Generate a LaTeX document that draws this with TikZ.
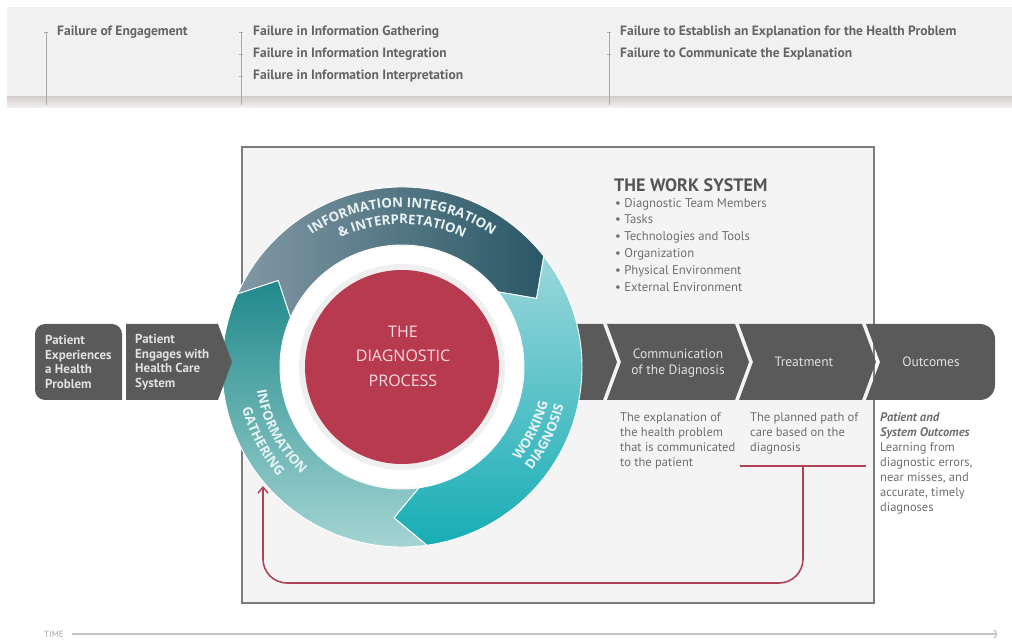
\documentclass[tikz,border=0pt]{standalone}
\usepackage{fontspec}
\setmainfont{PT Sans}
\newfontfamily\ringfont{Open Sans}
\usetikzlibrary{decorations.text,arrows.meta}
\definecolor{bandgray}{HTML}{F1F1F1}
\definecolor{bandshadeA}{HTML}{D5CFCF}
\definecolor{bandshadeB}{HTML}{F6F3F3}
\definecolor{bracketgray}{HTML}{ABABAB}
\definecolor{boxfill}{HTML}{F4F4F4}
\definecolor{boxline}{HTML}{7C7C7C}
\definecolor{chev}{HTML}{5A5A5A}
\definecolor{chevtext}{HTML}{E0E0E0}
\definecolor{crimson}{HTML}{B73A4F}
\definecolor{pinktext}{HTML}{F6DCE1}
\definecolor{loopred}{HTML}{AF4256}
\definecolor{headtext}{HTML}{646464}
\definecolor{bodytext}{HTML}{6E6E6E}
\definecolor{titletext}{HTML}{555555}
\definecolor{ringtext}{HTML}{EAF3F4}
\definecolor{topL}{HTML}{8298A5}
\definecolor{topR}{HTML}{2A5866}
\definecolor{gathT}{HTML}{21898B}
\definecolor{gathB}{HTML}{A9D8D6}
\definecolor{cyanT}{HTML}{9AD7DB}
\definecolor{cyanM}{HTML}{25B3BB}
\definecolor{cyanB}{HTML}{17ADB5}
\definecolor{haloGray}{HTML}{EFEFEF}
\definecolor{timegray}{HTML}{A8A8A8}
\newcommand\ringseg[3]{(#1:180) arc[start angle=#1, end angle=#2, radius=180] -- ({#2-#3}:151) -- (#2:122) arc[start angle=#2, end angle=#1, radius=122] -- ({#1-#3}:151) -- cycle}
\tikzset{
  headlbl/.style={anchor=base west, inner sep=0pt, text=headtext, font=\bfseries\fontsize{13.5}{13.5}\selectfont},
  bracket/.style={draw=bracketgray, line width=0.8pt},
  chevshape/.style={fill=chev},
  chevlbl/.style={inner sep=0pt, text=chevtext, font=\fontsize{13.5}{16}\selectfont, align=center},
  leftlbl/.style={anchor=west, inner sep=0pt, text=chevtext, font=\bfseries\fontsize{13}{14.5}\selectfont, align=left},
  bodylbl/.style={anchor=north west, inner sep=0pt, text=bodytext, font=\fontsize{12.5}{15}\selectfont, align=left},
  listlbl/.style={anchor=north west, inner sep=0pt, text=bodytext, font=\fontsize{12.7}{16.8}\selectfont, align=left},
  seg/.style={draw=white, line width=0.9pt},
  circlbl/.style={inner sep=0pt, text=pinktext, font=\ringfont\fontsize{16}{16}\selectfont},
  loopline/.style={draw=loopred, line width=1.6pt},
  ringdeco/.style={decorate, decoration={text along path, text align=center, text color=ringtext, text={|\ringfont\bfseries\fontsize{13.3}{13.3}\selectfont|#1}}},
}
\begin{document}
\begin{tikzpicture}[x=1pt,y=1pt]
\useasboundingbox (0,0) rectangle (1012,643);
% top band
\fill[bandgray] (7,546) rectangle (1012,636);
\shade[top color=bandshadeA, bottom color=bandshadeB] (7,535) rectangle (1012,546);
% brackets
\draw[bracket] (44,611) -- (48,611) (46,611) -- (46,538);
\draw[bracket] (239,611) -- (243,611) (241,611) -- (241,538) (239,589) -- (243,589) (239,567) -- (243,567);
\draw[bracket] (607,611) -- (611,611) (609,611) -- (609,538) (607,589) -- (611,589);
\node[headlbl] (f1) at (57,607) {Failure of Engagement};
\node[headlbl] (f2) at (253,607) {Failure in Information Gathering};
\node[headlbl] (f3) at (253,585) {Failure in Information Integration};
\node[headlbl] (f4) at (253,563) {Failure in Information Interpretation};
\node[headlbl] (f5) at (620,607) {Failure to Establish an Explanation for the Health Problem};
\node[headlbl] (f6) at (620,585) {Failure to Communicate the Explanation};
% work system box
\draw[boxline, line width=1.8pt, fill=boxfill] (242,40) rectangle (874,496);
% right chevrons
\fill[chevshape] (560,319) -- (603,319) -- (617,281) -- (603,243) -- (560,243) -- cycle;
\fill[chevshape] (607,319) -- (735,319) -- (749,281) -- (735,243) -- (607,243) -- (621,281) -- cycle;
\fill[chevshape] (739,319) -- (862,319) -- (876,281) -- (862,243) -- (739,243) -- (753,281) -- cycle;
\fill[chevshape] (866,319) -- (980,319) arc[start angle=90, end angle=0, radius=15] -- (995,258) arc[start angle=0, end angle=-90, radius=15] -- (866,243) -- (880,281) -- cycle;
\node[chevlbl] (comm) at (678,280) {Communication\\of the Diagnosis};
\node[chevlbl] (treat) at (804,281) {Treatment};
\node[chevlbl] (outc) at (931,281) {Outcomes};
% ring
\begin{scope}[shift={(402,276)}]
\shadedraw[seg, top color=gathT, bottom color=gathB] \ringseg{278}{156}{11};
\shadedraw[seg, left color=topL, right color=topR] \ringseg{156}{38}{11};
\shadedraw[seg, top color=cyanT, middle color=cyanM, bottom color=cyanB] \ringseg{38}{-82}{11};
\fill[white] (0,0) circle (121);
\fill[haloGray] (0,0) circle (103);
\fill[crimson] (0,0) circle (97);
\path[ringdeco={INFORMATION INTEGRATION}] (150:160) arc[start angle=150, end angle=30, radius=160];
\path[ringdeco={{\&} INTERPRETATION}] (150:143) arc[start angle=150, end angle=30, radius=143];
\path[ringdeco={INFORMATION}] (148:147) arc[start angle=148, end angle=268, radius=147];
\path[ringdeco={GATHERING}] (148:165) arc[start angle=148, end angle=268, radius=165];
\path[ringdeco={WORKING}] (-86:150) arc[start angle=-86, end angle=34, radius=150];
\path[ringdeco={DIAGNOSIS}] (-86:166) arc[start angle=-86, end angle=34, radius=166];
\end{scope}
\node[circlbl] (c1) at (403,311) {THE};
\node[circlbl] (c2) at (403,287) {DIAGNOSTIC};
\node[circlbl] (c3) at (403,262) {PROCESS};
% left chevrons
\fill[chevshape, rounded corners=10pt] (122,243) -- (35,243) -- (35,319) -- (122,319) [sharp corners] -- cycle;
\fill[chevshape] (126,243) -- (218,243) -- (232,281) -- (218,319) -- (126,319) -- cycle;
\node[leftlbl] (p1) at (45,281) {Patient\\Experiences\\a Health\\Problem};
\node[leftlbl] (p2) at (135,281) {Patient\\Engages with\\Health Care\\System};
% work system text
\node[anchor=base west, inner sep=0pt, text=titletext, font=\bfseries\fontsize{18}{18}\selectfont] (ws) at (614,451) {THE WORK SYSTEM};
\node[listlbl] (wsl) at (615,445) {• Diagnostic Team Members\\• Tasks\\• Technologies and Tools\\• Organization\\• Physical Environment\\• External Environment};
% descriptions
\node[bodylbl] (d1) at (620,231) {The explanation of\\the health problem\\that is communicated\\to the patient};
\node[bodylbl] (d2) at (750,231) {The planned path of\\care based on the\\diagnosis};
\node[bodylbl] (d3) at (880,231) {\textbf{\textit{Patient and}}\\\textbf{\textit{System Outcomes}}\\Learning from\\diagnostic errors,\\near misses, and\\accurate, timely\\diagnoses};
% feedback loop
\coordinate (u1) at (740,177);
\coordinate (u2) at (866,177);
\coordinate (uj) at (803,177);
\coordinate (lbr) at (803,60);
\coordinate (lbl) at (263,60);
\coordinate (ltip) at (263,157);
\draw[loopline] (u1) -- (u2);
\draw[loopline, rounded corners=24pt, -{Straight Barb[length=6pt, width=10pt, line width=1.4pt]}] (uj) -- (lbr) -- (lbl) -- (ltip);
% time axis
\node[anchor=west, inner sep=0pt, text=timegray, font=\fontsize{9}{9}\selectfont] (time) at (44,9) {TIME};
\coordinate (tend) at (997,9);
\draw[draw=timegray!70, line width=1.3pt, -{Arc Barb[length=3pt, width=9pt, line width=1.2pt]}] ([xshift=8pt]time.east) -- (tend);
\end{tikzpicture}
\end{document}
